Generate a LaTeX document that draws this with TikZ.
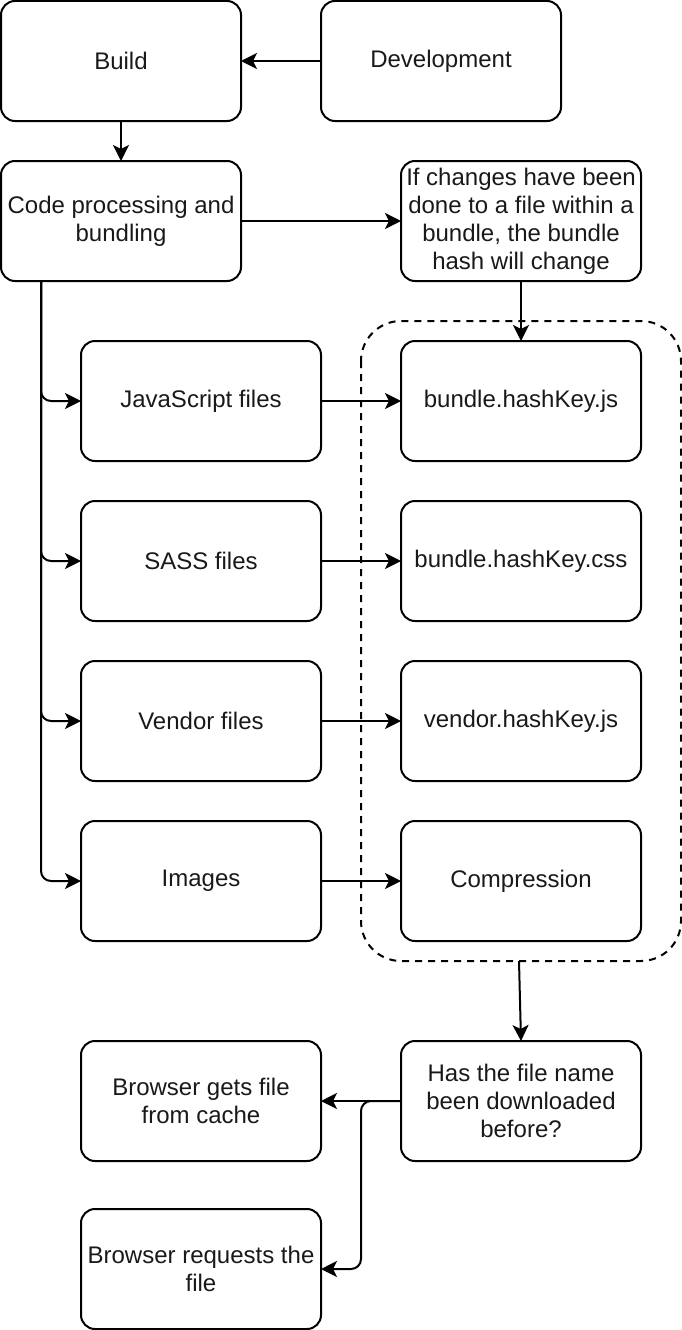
\documentclass[tikz,border=0pt]{standalone}
\usepackage{fontspec}
\setmainfont{Liberation Sans}
\usetikzlibrary{arrows.meta}
\begin{document}
\begin{tikzpicture}[x=1pt,y=-1pt,
  box/.style={draw=black, line width=2pt, rounded corners=14pt, minimum width=240pt, minimum height=120pt, inner sep=0pt, outer sep=0pt, align=center, font=\fontsize{24}{28}\selectfont, text=black!90},
  conn/.style={draw=black, line width=2pt, -{Stealth[length=16pt, width=16pt, inset=4pt]}},
  roundconn/.style={conn, rounded corners=10pt}]
\useasboundingbox (0,0) rectangle (682,1330);
\node[box] (build) at (121,61) {Build};
\node[box] (dev) at (441,61) {Development};
\node[box] (code) at (121,221) {Code processing and\\bundling};
\node[box] (chg) at (521,221) {If changes have been\\done to a file within a\\bundle, the bundle\\hash will change};
\draw[line width=2pt, dash pattern=on 7pt off 6pt, rounded corners=40pt] (361,321) rectangle (681,961);
\coordinate (contbot) at (519,961);
\coordinate (split) at (41,281);
\coordinate (turn) at (361,1269);
\node[box] (bjs) at (521,401) {bundle.hashKey.js};
\node[box] (bcss) at (521,561) {bundle.hashKey.css};
\node[box] (vjs) at (521,721) {vendor.hashKey.js};
\node[box] (comp) at (521,881) {Compression};
\node[box] (js) at (201,401) {JavaScript files};
\node[box] (sass) at (201,561) {SASS files};
\node[box] (vend) at (201,721) {Vendor files};
\node[box] (img) at (201,881) {Images};
\node[box] (has) at (521,1101) {Has the file name\\been downloaded\\before?};
\node[box] (cache) at (201,1101) {Browser gets file\\from cache};
\node[box] (req) at (201,1269) {Browser requests the\\file};
\draw[conn] (dev) -- (build);
\draw[conn] (build) -- (code);
\draw[conn] (code) -- (chg);
\draw[conn] (chg) -- (bjs);
\draw[roundconn] (split) |- (js.west);
\draw[roundconn] (split) |- (sass.west);
\draw[roundconn] (split) |- (vend.west);
\draw[roundconn] (split) |- (img.west);
\draw[conn] (js) -- (bjs);
\draw[conn] (sass) -- (bcss);
\draw[conn] (vend) -- (vjs);
\draw[conn] (img) -- (comp);
\draw[conn] (contbot) -- (has.north);
\draw[conn] (has) -- (cache);
\draw[roundconn] (has.west) -| (turn) -- (req.east);
\end{tikzpicture}
\end{document}
